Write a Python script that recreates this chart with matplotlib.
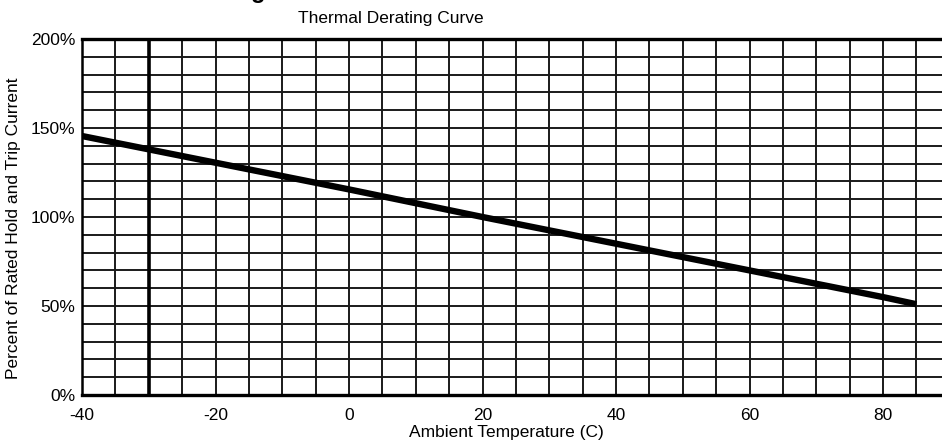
import matplotlib
matplotlib.use("Agg")
import matplotlib.pyplot as plt
import numpy as np

# curve
temps_c = [-40, -20, 0, 20, 40, 60, 80, 85]
percent_rated = [145.5, 130.5, 115.5, 100, 85, 70, 55, 51]

x_ticks = [-40, -20, 0, 20, 40, 60, 80]
y_ticks = [0, 50, 100, 150, 200]
y_tick_labels = ["0%", "50%", "100%", "150%", "200%"]

plt.rcParams['font.family'] = ['Liberation Sans', 'DejaVu Sans']

fig = plt.figure(figsize=(9.42, 4.47), dpi=100)
ax = fig.add_axes([82 / 942, 1 - 395 / 447, 867.75 / 942, 356 / 447])

ax.set_xlim(-40, 90)
ax.set_ylim(0, 200)

# grid: every 5 C and every 10 %
for t in np.arange(-40, 91, 5):
    ax.axvline(t, color='#1a1a1a', lw=1.4, zorder=1)
for p in np.arange(0, 201, 10):
    ax.axhline(p, color='#1a1a1a', lw=1.4, zorder=1)
ax.axvline(-30, color='black', lw=2.6, zorder=2)

ax.plot(temps_c, percent_rated, color='black', lw=4.6,
        solid_capstyle='butt', zorder=3)

for side in ['top', 'bottom']:
    ax.spines[side].set_linewidth(2.4)
ax.spines['left'].set_linewidth(1.8)
ax.spines['right'].set_visible(False)

ax.set_xticks(x_ticks)
ax.set_xticklabels([str(t) for t in x_ticks], fontsize=12.5)
ax.set_yticks(y_ticks)
ax.set_yticklabels(y_tick_labels, fontsize=12.5)
ax.tick_params(axis='x', length=0, pad=9)
ax.tick_params(axis='y', length=0, pad=5)

fig.text(506 / 942, 1 - 433 / 447, "Ambient Temperature (C)",
         ha='center', va='center', fontsize=12.5)
fig.text(14 / 942, 1 - 228 / 447, "Percent of Rated Hold and Trip Current",
         ha='center', va='center', rotation=90, fontsize=12.5)
fig.text(391 / 942, 1 - 18 / 447, "Thermal Derating Curve",
         ha='center', va='center', fontsize=12.5)
# clipped heading from the page above the chart
fig.text(258 / 942, 1 + 2 / 447, "g", ha='center', va='baseline',
         fontsize=17, fontweight='bold')

fig.savefig("out.png", dpi=100)
